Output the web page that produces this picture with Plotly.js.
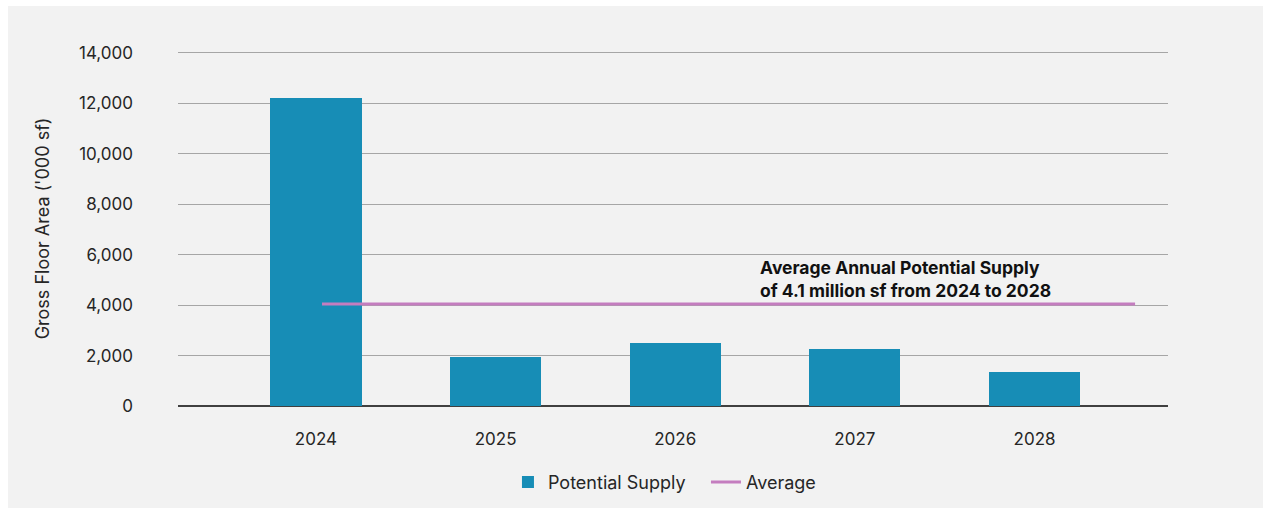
<!DOCTYPE html>
<html>
<head>
<meta charset="utf-8">
<script src="https://cdn.plot.ly/plotly-3.0.1.min.js"></script>
<style>
  html, body { margin: 0; padding: 0; background: #ffffff; }
  #chart { position: absolute; left: 8px; top: 6px; width: 1255px; height: 502px; }
</style>
</head>
<body>
<div id="chart"></div>
<script>
const years = ['2024', '2025', '2026', '2027', '2028'];
const yearNums = [2024, 2025, 2026, 2027, 2028];
const potentialSupply = [12200, 1950, 2500, 2250, 1350];
const averageSupply = 4050;
const yTicks = [0, 2000, 4000, 6000, 8000, 10000, 12000, 14000];
const annotationText = 'Average Annual Potential Supply<br>of 4.1 million sf from 2024 to 2028';

const fontFamily = 'Inter, "Open Sans", sans-serif';
const textColor = '#262626';

const traces = [
  {
    type: 'bar',
    name: 'Potential Supply',
    x: years,
    y: potentialSupply,
    width: 0.507,
    marker: { color: '#178db6' },
    hoverinfo: 'x+y'
  },
  {
    type: 'scatter',
    mode: 'lines',
    name: 'Average',
    x: [yearNums[0], yearNums[yearNums.length - 1]],
    y: [averageSupply, averageSupply],
    xaxis: 'x2',
    line: { color: '#c47dbf', width: 3 }
  }
];

const layout = {
  width: 1255,
  height: 502,
  paper_bgcolor: '#f2f2f2',
  plot_bgcolor: '#f2f2f2',
  margin: { l: 170, r: 95, t: 45, b: 102, autoexpand: false },
  font: { family: fontFamily, color: textColor, size: 17 },
  showlegend: true,
  legend: {
    orientation: 'h',
    x: 0.5333, xanchor: 'center',
    y: -0.215, yanchor: 'middle',
    entrywidth: 153,
    entrywidthmode: 'pixels',
    font: { size: 18, color: textColor },
    bgcolor: 'rgba(0,0,0,0)'
  },
  xaxis: {
    type: 'category',
    range: [-0.768, 4.743],
    showgrid: false,
    zeroline: false,
    showline: false,
    ticks: '',
    ticklabelstandoff: 21,
    tickfont: { size: 17, color: textColor },
    fixedrange: true
  },
  xaxis2: {
    type: 'linear',
    overlaying: 'x',
    range: [2023.2915, 2028.162],
    visible: false,
    fixedrange: true
  },
  yaxis: {
    range: [0, 14079],
    tickvals: yTicks,
    tickformat: ',d',
    showgrid: true,
    gridcolor: '#a6a6a6',
    gridwidth: 1,
    zeroline: true,
    zerolinecolor: '#404040',
    zerolinewidth: 2,
    showline: false,
    ticks: '',
    ticklabelstandoff: 44,
    tickfont: { size: 17, color: textColor },
    title: {
      text: "Gross Floor Area ('000 sf)",
      font: { size: 18, color: textColor },
      standoff: 24
    },
    fixedrange: true
  },
  bargap: 0,
  annotations: [
    {
      xref: 'paper', yref: 'paper',
      x: 0.586, y: 0.357,
      xanchor: 'left', yanchor: 'middle',
      align: 'left',
      showarrow: false,
      text: '<b>' + annotationText + '</b>',
      font: { size: 17.5, color: '#111111', family: fontFamily }
    }
  ]
};

Plotly.newPlot('chart', traces, layout, { displayModeBar: false, staticPlot: true });
</script>
</body>
</html>
